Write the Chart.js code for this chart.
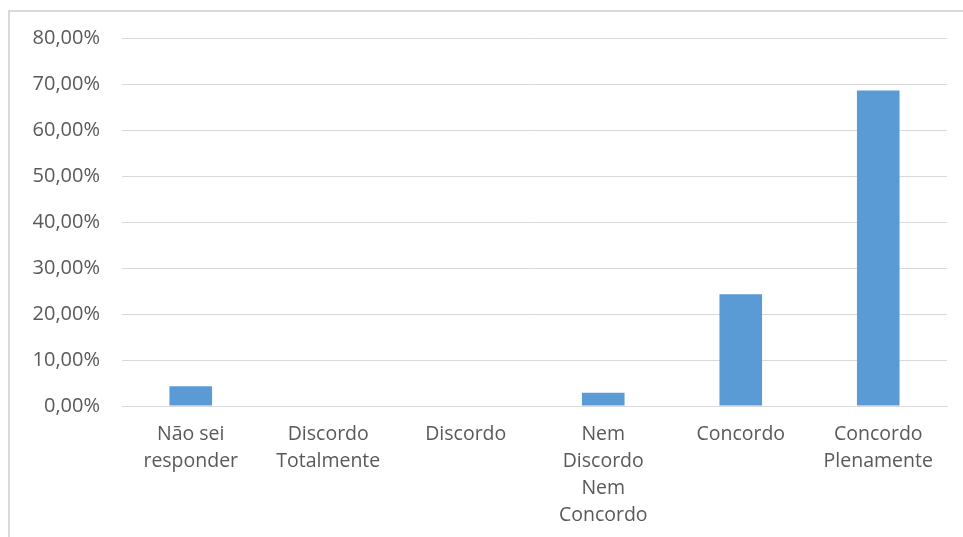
<!DOCTYPE html>
<html>
<head>
<meta charset="utf-8">
<script src="https://cdn.jsdelivr.net/npm/chart.js@4"></script>
<style>
  html, body { margin: 0; padding: 0; background: #fff; }
  body { width: 963px; height: 537px; position: relative; overflow: hidden; }
  .frame { position: absolute; left: 8px; top: 10px; width: 980px; height: 560px;
           border: 2px solid #d9d9d9; box-sizing: border-box; }
  .wrap { position: absolute; left: 0; top: 0; width: 963px; height: 537px; }
</style>
</head>
<body>
<div class="frame"></div>
<div class="wrap"><canvas id="myChart" width="963" height="537"></canvas></div>
<script>
// categorias (quebradas em linhas como no original)
const categories = [
  ['Não sei', 'responder'],
  ['Discordo', 'Totalmente'],
  ['Discordo'],
  ['Nem', 'Discordo', 'Nem', 'Concordo'],
  ['Concordo'],
  ['Concordo', 'Plenamente']
];
const percentValues = [4.29, 0, 0, 2.86, 24.29, 68.57];
const yTicks = [0, 10, 20, 30, 40, 50, 60, 70, 80];

const textColor = '#595959';
const gridColor = '#d9d9d9';

const fmt = (v) => v.toFixed(2).replace('.', ',') + '%';

const data = {
  labels: categories,
  datasets: [{
    label: 'Respostas',
    data: percentValues,
    backgroundColor: '#5b9bd5',
    borderWidth: 0,
    barPercentage: 0.31,
    categoryPercentage: 1
  }]
};

const config = {
  type: 'bar',
  data,
  options: {
    responsive: false,
    animation: false,
    layout: { padding: { top: 38, right: 16, left: 0, bottom: 0 } },
    plugins: { legend: { display: false }, tooltip: { enabled: false } },
    scales: {
      x: {
        grid: { display: false, drawTicks: false },
        border: { color: gridColor, width: 1 },
        ticks: {
          color: textColor,
          font: { family: 'Open Sans', size: 19.5 },
          padding: 15,
          maxRotation: 0,
          autoSkip: false
        },
        afterFit: (scale) => { scale.height = 131; }
      },
      y: {
        min: 0,
        max: 80,
        afterBuildTicks: (scale) => { scale.ticks = yTicks.map(v => ({ value: v })); },
        grid: { color: gridColor, lineWidth: 1, drawTicks: false },
        border: { display: false },
        ticks: {
          color: textColor,
          font: { family: 'Open Sans', size: 20 },
          padding: 22,
          callback: (v) => fmt(v)
        },
        afterFit: (scale) => { scale.width = 122; }
      }
    }
  }
};

Chart.defaults.font.lineHeight = 1.385;
const myChart = new Chart(document.getElementById('myChart'), config);
</script>
</body>
</html>
